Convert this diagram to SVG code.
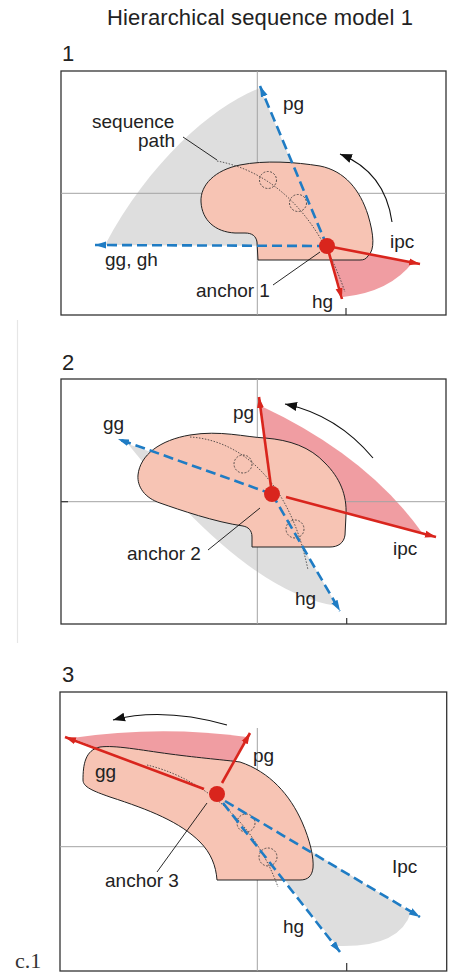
<svg xmlns="http://www.w3.org/2000/svg" width="449" height="972" viewBox="0 0 449 972">
<defs>
<marker id="ab" markerUnits="userSpaceOnUse" markerWidth="12" markerHeight="8" refX="11" refY="4" orient="auto"><path d="M0,0.5 L11,4 L0,7.5 Z" fill="#1f7cc4"/></marker>
<marker id="ar" markerUnits="userSpaceOnUse" markerWidth="12" markerHeight="8" refX="11" refY="4" orient="auto"><path d="M0,0.5 L11,4 L0,7.5 Z" fill="#d9251d"/></marker>
<marker id="ak" markerUnits="userSpaceOnUse" markerWidth="13" markerHeight="10" refX="12" refY="5" orient="auto"><path d="M0,0.5 L12,5 L0,9.5 Z" fill="#111"/></marker>
</defs>
<style>
text{font-family:"Liberation Sans",Arial,sans-serif;fill:#222}
.lbl{font-size:19px}
.num{font-size:22px}
.frame{fill:#fff;stroke:#333;stroke-width:1.3}
.grid{stroke:#a3a3a3;stroke-width:1;fill:none}
.tick{stroke:#333;stroke-width:1.2}
.grey{fill:#dedede}
.pinkfan{fill:#f09da2}
.shape{fill:#f7c4b4;stroke:#222;stroke-width:1}
.dot{fill:none;stroke:#333;stroke-width:0.8;stroke-dasharray:1.5 1.5}
.circ{fill:none;stroke:#333;stroke-width:0.8;stroke-dasharray:2 1.5}
.blue{stroke:#1f7cc4;stroke-width:2.6;stroke-dasharray:10 5;fill:none;marker-end:url(#ab)}
.red{stroke:#d9251d;stroke-width:2.6;fill:none;marker-end:url(#ar)}
.anchor{fill:#d9251d}
.curve{stroke:#111;stroke-width:1.1;fill:none;marker-end:url(#ak)}
.leader{stroke:#111;stroke-width:0.9}
</style>

<text id="title" x="107" y="25" style="font-size:22px" textLength="306">Hierarchical sequence model 1</text>
<line x1="17.5" y1="320" x2="17.5" y2="643" stroke="#e6e6e6" stroke-width="1.2"/>

<!-- Panel 1 -->
<g id="panel1">
<text class="num" x="62" y="61">1</text>
<rect class="frame" x="61" y="71" width="385" height="244"/>
<path id="p1-greyfan" class="grey" d="M327,246 L260,88 C215,105 150,160 105,245 Z"/>
<path id="p1-pinkfan" class="pinkfan" d="M327,246 L343,297 Q390,292 413,262 Z"/>
<line class="grid" x1="257.3" y1="71" x2="257.3" y2="315"/>
<line class="grid" x1="61" y1="193.3" x2="446" y2="193.3"/>
<line class="tick" x1="346" y1="308" x2="346" y2="315"/>
<g id="p1-shape"><path class="shape" d="M258,260 L257,242 C256,236 252,233 245,233 L235,233 C215,232 202,220 201,202 C200,185 215,170 240,165 C265,160 295,162 320,166 C345,171 360,190 368,215 C374,235 375,250 368,256 C366,259 364,260 360,260 Z"/></g>
<path class="dot" d="M217,161 C265,170 315,205 345,292"/>
<circle class="circ" cx="268" cy="180" r="8.5"/>
<circle class="circ" cx="298" cy="203" r="8.5"/>
<g id="p1-connectors">
<line class="blue" x1="327" y1="246" x2="260" y2="86"/>
<line class="blue" x1="327" y1="246" x2="95" y2="245"/>
<line class="red" x1="327" y1="246" x2="420" y2="264"/>
<line class="red" x1="327" y1="246" x2="342" y2="299"/>
<path class="curve" d="M392,222 Q385,172 340,154"/>
<line class="leader" x1="183" y1="137" x2="217" y2="160"/>
<line class="leader" x1="273" y1="285" x2="320" y2="252"/>
</g>
<g id="anchor1"><circle class="anchor" cx="327" cy="246" r="8"/></g>
<text class="lbl" x="92" y="128">sequence</text>
<text class="lbl" x="175" y="147" text-anchor="end">path</text>
<text class="lbl" x="283" y="110">pg</text>
<text class="lbl" x="105" y="266">gg, gh</text>
<text class="lbl" x="390" y="248">ipc</text>
<text class="lbl" x="196" y="297">anchor 1</text>
<text class="lbl" x="312" y="308">hg</text>
</g>

<!-- Panel 2 -->
<g id="panel2">
<text class="num" x="62" y="370">2</text>
<rect class="frame" x="61" y="379" width="385" height="245"/>
<path id="p2-greyfan" class="grey" d="M272,494 L128,444 Q247,593 337,606 Z"/>
<path id="p2-pinkfan" class="pinkfan" d="M272,494 L261,406 Q368,456 423,534 Z"/>
<line class="grid" x1="257.3" y1="379" x2="257.3" y2="624"/>
<line class="grid" x1="61" y1="501.7" x2="446" y2="501.7"/>
<line class="tick" x1="61" y1="501.7" x2="68" y2="501.7"/>
<line class="tick" x1="346.7" y1="618" x2="346.7" y2="624"/>
<g id="p2-shape"><path class="shape" d="M252,547 L252,537 C252,530 248,527 243,526 C215,522 180,510 160,503 C145,498 137,487 138,475 C140,455 160,440 190,435 C220,430 245,437 265,438 C290,440 310,447 325,463 C340,478 347,495 346,515 L345,535 C344,543 338,547 330,547 Z"/></g>
<path class="dot" d="M190,437 C240,440 290,480 308,570"/>
<circle class="circ" cx="243" cy="464" r="9"/>
<circle class="circ" cx="295" cy="529" r="9"/>
<g id="p2-connectors">
<line class="blue" x1="272" y1="494" x2="118" y2="439"/>
<line class="blue" x1="272" y1="494" x2="340" y2="611"/>
<line class="red" x1="272" y1="494" x2="259" y2="397"/>
<line class="red" x1="286" y1="497" x2="436" y2="537"/>
<path class="curve" d="M373,458 Q337,415 285,404"/>
<line class="leader" x1="208" y1="550" x2="260" y2="508"/>
</g>
<g id="anchor2"><circle class="anchor" cx="272" cy="494" r="8"/></g>
<text class="lbl" x="103" y="430">gg</text>
<text class="lbl" x="233" y="419">pg</text>
<text class="lbl" x="127" y="560">anchor 2</text>
<text class="lbl" x="393" y="555">ipc</text>
<text class="lbl" x="295" y="605">hg</text>
</g>

<!-- Panel 3 -->
<g id="panel3">
<text class="num" x="62" y="682">3</text>
<rect class="frame" x="60" y="692" width="386.7" height="279"/>
<path id="p3-pinkfan" class="pinkfan" d="M217,794 L72,738 Q160,725 247,737 Z"/>
<path id="p3-greyfan" class="grey" d="M217,794 L411,912 Q400,948 337,946 Z"/>
<line class="grid" x1="257.3" y1="728" x2="257.3" y2="971"/>
<line class="grid" x1="60" y1="846.7" x2="446.7" y2="846.7"/>
<line class="tick" x1="346.7" y1="963" x2="346.7" y2="971"/>
<g id="p3-shape"><path class="shape" d="M217,880 C216,866 211,853 200,842 C180,822 150,810 110,797 C93,791 83,787 83,780 C83,765 85,750 100,747 C115,745 140,750 170,754 C200,758 225,760 240,762 C270,772 290,795 302,822 C310,840 314,858 313,868 C312,876 308,880 300,880 Z"/></g>
<path class="dot" d="M147,765 C190,775 250,810 278,887"/>
<circle class="circ" cx="246" cy="823" r="9"/>
<circle class="circ" cx="268" cy="857" r="9"/>
<g id="p3-connectors">
<line class="red" x1="204" y1="789" x2="65" y2="737"/>
<line class="red" x1="222" y1="783" x2="250" y2="733"/>
<line class="blue" x1="225" y1="801" x2="420" y2="917"/>
<line class="blue" x1="223" y1="803" x2="340" y2="952"/>
<path class="curve" d="M227,725 Q163,707 113,720"/>
<line class="leader" x1="157" y1="872" x2="207" y2="803"/>
</g>
<g id="anchor3"><circle class="anchor" cx="217" cy="794" r="8"/></g>
<text class="lbl" x="95" y="778">gg</text>
<text class="lbl" x="253" y="762">pg</text>
<text class="lbl" x="105" y="887">anchor 3</text>
<text class="lbl" x="392" y="873">Ipc</text>
<text class="lbl" x="283" y="933">hg</text>
</g>
<text id="caption" x="15" y="968" style="font-family:'Liberation Serif','Times New Roman',serif;font-size:22px;fill:#333">c.1</text>
</svg>
